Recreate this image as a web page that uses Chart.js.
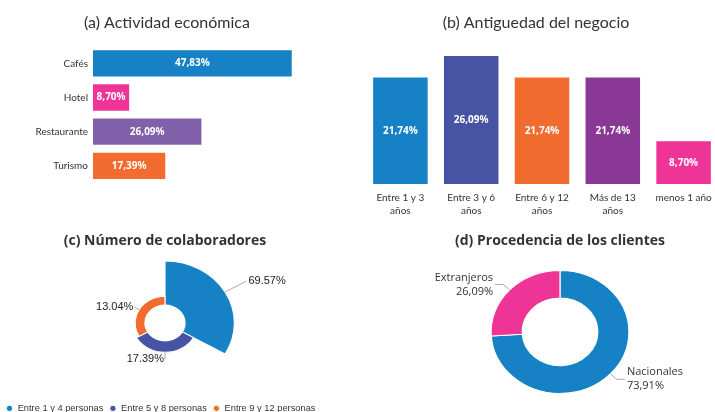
<!DOCTYPE html>
<html>
<head>
<meta charset="utf-8">
<script src="https://cdn.jsdelivr.net/npm/chart.js@4.4.0/dist/chart.umd.min.js"></script>
<style>
  html, body { margin: 0; padding: 0; background: #fff; }
  body { width: 715px; height: 412px; position: relative; overflow: hidden; }
  .box { position: absolute; }
</style>
</head>
<body>
<div class="box" style="left:0;top:0;width:334px;height:200px"><canvas id="chartA"></canvas></div>
<div class="box" style="left:353px;top:0;width:366px;height:228px"><canvas id="chartB"></canvas></div>
<div class="box" style="left:0;top:225px;width:334px;height:198px"><canvas id="chartC"></canvas></div>
<div class="box" style="left:405px;top:225px;width:310px;height:189px"><canvas id="chartD"></canvas></div>
<script>
// datos
const actividadLabels = ['Cafés', 'Hotel', 'Restaurante', 'Turismo'];
const actividadValues = [47.83, 8.70, 26.09, 17.39];

const antiguedadLabels = [['Entre 1 y 3', 'años'], ['Entre 3 y 6', 'años'], ['Entre 6 y 12', 'años'], ['Más de 13', 'años'], 'menos 1 año'];
const antiguedadValues = [21.74, 26.09, 21.74, 21.74, 8.70];

const colaboradoresLabels = ['Entre 1 y 4 personas', 'Entre 5 y 8 personas', 'Entre 9 y 12 personas'];
const colaboradoresValues = [69.57, 17.39, 13.04];

const clientesLabels = ['Nacionales', 'Extranjeros'];
const clientesValues = [73.91, 26.09];

// colores y fuentes
const BLUE = '#1682C5', PINK = '#EE3497', PURPLE = '#825FA9', ORANGE = '#F26C30', INDIGO = '#4754A3', VIOLET = '#8A3895';
const TEXT = '#333333';
const FONT = '"Open Sans", sans-serif';
const LATO = 'Lato, sans-serif';
const ARIAL = '"Liberation Sans", Arial, sans-serif';
const stretchX = 1.12; // los circulos del original estan algo estirados

const comma = v => v.toFixed(2).replace('.', ',') + '%';

// etiquetas blancas dentro de las barras
const barLabels = {
  id: 'barLabels',
  afterDatasetsDraw(chart) {
    const ctx = chart.ctx;
    const horizontal = chart.options.indexAxis === 'y';
    const values = chart.data.datasets[0].data;
    ctx.save();
    ctx.font = 'bold 10px ' + FONT;
    ctx.fillStyle = '#fff';
    ctx.textAlign = 'center';
    ctx.textBaseline = 'middle';
    chart.getDatasetMeta(0).data.forEach((bar, i) => {
      const p = bar.getProps(['x', 'y', 'base'], true);
      const x = horizontal ? (p.x + p.base) / 2 : p.x;
      const y = horizontal ? p.y : (p.y + p.base) / 2;
      ctx.fillText(comma(values[i]), x, y);
    });
    ctx.restore();
  }
};

// estira horizontalmente los arcos y dibuja el hueco central si hace falta
const stretch = {
  id: 'stretch',
  beforeDatasetsDraw(chart) {
    const cx = chart.getDatasetMeta(0).data[0].x;
    const ctx = chart.ctx;
    ctx.save();
    ctx.translate(cx, 0);
    ctx.scale(stretchX, 1);
    ctx.translate(-cx, 0);
  },
  afterDatasetsDraw(chart) {
    const ctx = chart.ctx;
    const r = chart.scales.r;
    if (r) {
      const arc = chart.getDatasetMeta(0).data[0];
      ctx.beginPath();
      ctx.arc(arc.x, arc.y, r.getDistanceFromCenterForValue(0), 0, Math.PI * 2);
      ctx.fillStyle = '#fff';
      ctx.fill();
    }
    ctx.restore();
  }
};

// barras (a)
new Chart(document.getElementById('chartA'), {
  type: 'bar',
  data: {
    labels: actividadLabels,
    datasets: [{
      data: actividadValues,
      backgroundColor: [BLUE, PINK, PURPLE, ORANGE],
      barPercentage: 0.77,
      categoryPercentage: 1
    }]
  },
  options: {
    indexAxis: 'y',
    responsive: true,
    maintainAspectRatio: false,
    animation: false,
    layout: { padding: { bottom: 17 } },
    plugins: {
      legend: { display: false },
      tooltip: { enabled: false },
      title: {
        display: true,
        text: '(a) Actividad económica',
        color: TEXT,
        font: { family: LATO, size: 16, weight: 'normal' },
        padding: { top: 13, bottom: 14 }
      }
    },
    scales: {
      x: { display: false, min: 0, max: 58 },
      y: {
        grid: { display: false, drawTicks: false },
        border: { display: false },
        ticks: { color: TEXT, font: { family: LATO, size: 10 }, padding: 5 },
        afterFit(scale) { scale.width = 93; }
      }
    }
  },
  plugins: [barLabels]
});

// barras (b)
new Chart(document.getElementById('chartB'), {
  type: 'bar',
  data: {
    labels: antiguedadLabels,
    datasets: [{
      data: antiguedadValues,
      backgroundColor: [BLUE, INDIGO, ORANGE, VIOLET, PINK],
      barPercentage: 0.77,
      categoryPercentage: 1
    }]
  },
  options: {
    responsive: true,
    maintainAspectRatio: false,
    animation: false,
    layout: { padding: { bottom: 4 } },
    plugins: {
      legend: { display: false },
      tooltip: { enabled: false },
      title: {
        display: true,
        text: '(b) Antiguedad del negocio',
        color: TEXT,
        font: { family: LATO, size: 16, weight: 'normal' },
        padding: { top: 13, bottom: 14.5 }
      }
    },
    scales: {
      y: {
        min: 0,
        max: 28,
        grid: { display: false, drawTicks: false },
        border: { display: false },
        ticks: { display: false },
        afterFit(scale) { scale.width = 12; }
      },
      x: {
        grid: { display: false, drawTicks: false },
        border: { display: false },
        ticks: { color: TEXT, font: { family: LATO, size: 10, lineHeight: 1.3 }, padding: 7, autoSkip: false, maxRotation: 0 }
      }
    }
  },
  plugins: [barLabels]
});

// rosa (c)
new Chart(document.getElementById('chartC'), {
  type: 'polarArea',
  data: {
    labels: colaboradoresLabels,
    datasets: [{
      data: colaboradoresValues,
      backgroundColor: [BLUE, INDIGO, ORANGE],
      borderColor: '#fff',
      borderWidth: 1,
      clip: false
    }]
  },
  options: {
    responsive: true,
    maintainAspectRatio: false,
    animation: false,
    layout: { padding: { right: 4 } },
    scales: { r: { display: false, min: -29.6, max: 87.3 } },
    plugins: {
      tooltip: { enabled: false },
      title: {
        display: true,
        text: '(c) Número de colaboradores',
        color: TEXT,
        font: { family: FONT, size: 14, weight: 'bold' },
        padding: { top: 8, bottom: 0 }
      },
      legend: {
        position: 'bottom',
        align: 'start',
        labels: {
          usePointStyle: true,
          pointStyle: 'circle',
          boxWidth: 7,
          boxHeight: 4.5,
          padding: 6,
          color: TEXT,
          font: { family: ARIAL, size: 9.3 }
        }
      }
    }
  },
  plugins: [stretch, {
    id: 'roseLabels',
    afterDraw(chart) {
      const ctx = chart.ctx;
      const lens = [22, 7, 5];
      ctx.save();
      ctx.font = '11px ' + ARIAL;
      ctx.textBaseline = 'middle';
      ctx.strokeStyle = '#aaaaaa';
      ctx.lineWidth = 1;
      chart.getDatasetMeta(0).data.forEach((arc, i) => {
        const p = arc.getProps(['x', 'y', 'startAngle', 'endAngle', 'outerRadius'], true);
        const a = (p.startAngle + p.endAngle) / 2;
        const c = Math.cos(a), s = Math.sin(a);
        const r1 = p.outerRadius + lens[i];
        const x0 = p.x + c * p.outerRadius * stretchX, y0 = p.y + s * p.outerRadius;
        const x1 = p.x + c * r1 * stretchX, y1 = p.y + s * r1;
        ctx.beginPath();
        ctx.moveTo(x0, y0);
        ctx.lineTo(x1, y1);
        ctx.stroke();
        const right = c > 0.01;
        ctx.textAlign = right ? 'left' : 'right';
        ctx.fillStyle = '#222';
        ctx.fillText(colaboradoresValues[i].toFixed(2) + '%', x1 + (right ? 2 : -1), y1);
      });
      ctx.restore();
    }
  }]
});

// anillo (d)
new Chart(document.getElementById('chartD'), {
  type: 'doughnut',
  data: {
    labels: clientesLabels,
    datasets: [{
      data: clientesValues,
      backgroundColor: [BLUE, PINK],
      borderColor: '#fff',
      borderWidth: 1,
      clip: false
    }]
  },
  options: {
    responsive: true,
    maintainAspectRatio: false,
    animation: false,
    radius: 61.5,
    cutout: '55%',
    plugins: {
      tooltip: { enabled: false },
      legend: { display: false },
      title: {
        display: true,
        text: '(d) Procedencia de los clientes',
        color: TEXT,
        font: { family: FONT, size: 14, weight: 'bold' },
        padding: { top: 8, bottom: 0 }
      }
    }
  },
  plugins: [stretch, {
    id: 'ringLabels',
    afterDraw(chart) {
      const ctx = chart.ctx;
      ctx.save();
      ctx.font = '11px ' + FONT;
      ctx.textBaseline = 'middle';
      ctx.strokeStyle = '#aaaaaa';
      ctx.lineWidth = 1;
      chart.getDatasetMeta(0).data.forEach((arc, i) => {
        const p = arc.getProps(['x', 'y', 'startAngle', 'endAngle', 'outerRadius'], true);
        const a = (p.startAngle + p.endAngle) / 2;
        const c = Math.cos(a), s = Math.sin(a);
        const r1 = p.outerRadius + 8;
        const right = c > 0;
        const x0 = p.x + c * p.outerRadius * stretchX, y0 = p.y + s * p.outerRadius;
        const x1 = p.x + c * r1 * stretchX, y1 = p.y + s * r1;
        const x2 = x1 + (right ? 8 : -8);
        ctx.beginPath();
        ctx.moveTo(x0, y0);
        ctx.lineTo(x1, y1);
        ctx.lineTo(x2, y1);
        ctx.stroke();
        ctx.textAlign = right ? 'left' : 'right';
        ctx.fillStyle = TEXT;
        const tx = x2 + (right ? 2 : -2);
        ctx.fillText(clientesLabels[i], tx, y1 - 7);
        ctx.fillText(comma(clientesValues[i]), tx, y1 + 7);
      });
      ctx.restore();
    }
  }]
});
</script>
</body>
</html>
